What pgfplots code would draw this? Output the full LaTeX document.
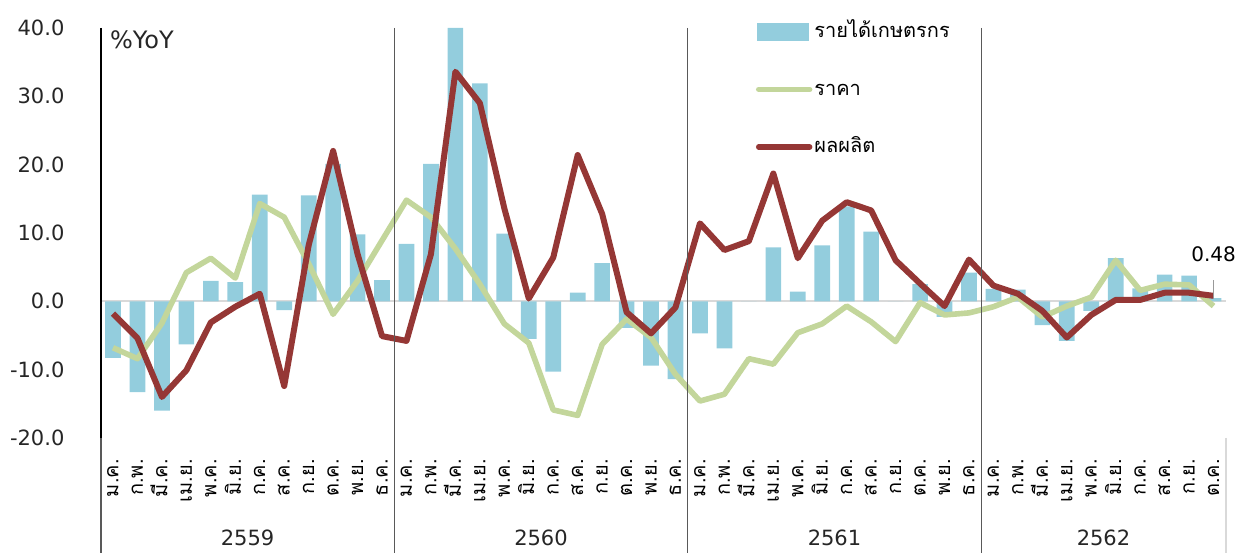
\documentclass[border=0pt]{standalone}
\usepackage{fontspec}
\setmainfont{DejaVu Sans}
\newfontfamily\thaifont[Script=Thai]{Loma}
\usepackage{pgfplots}
\pgfplotsset{compat=1.18}
\usepackage{pgfplotstable}

\definecolor{barblue}{HTML}{93CDDD}
\definecolor{pricegreen}{HTML}{C3D69B}
\definecolor{prodred}{HTML}{953735}
\definecolor{sepgray}{HTML}{595959}
\definecolor{zerogray}{HTML}{D9D9D9}

\pgfplotstableread{
x inc price prod
0 -8.3 -6.8 -1.8
1 -13.3 -8.4 -5.4
2 -16.0 -3.2 -14.0
3 -6.3 4.2 -10.1
4 3.0 6.3 -3.1
5 2.8 3.4 -0.8
6 15.6 14.3 1.1
7 -1.3 12.3 -12.4
8 15.5 5.5 8.2
9 20.1 -1.9 22.0
10 9.8 3.0 6.9
11 3.1 8.9 -5.1
12 8.4 14.8 -5.8
13 20.1 12.3 6.9
14 40.0 7.7 33.6
15 31.9 2.5 29.0
16 9.9 -3.3 13.6
17 -5.5 -6.1 0.4
18 -10.3 -15.9 6.4
19 1.25 -16.7 21.4
20 5.6 -6.3 12.8
21 -3.9 -2.6 -1.6
22 -9.4 -5.3 -4.7
23 -11.4 -10.7 -0.9
24 -4.7 -14.6 11.4
25 -6.9 -13.6 7.5
26 0.0 -8.4 8.8
27 7.9 -9.2 18.7
28 1.4 -4.6 6.3
29 8.2 -3.3 11.8
30 13.9 -0.7 14.5
31 10.2 -3.0 13.3
32 0.0 -5.9 6.0
33 2.5 -0.2 2.6
34 -2.3 -2.0 -0.7
35 4.2 -1.7 6.1
36 1.8 -0.8 2.3
37 1.7 0.6 1.1
38 -3.5 -2.3 -1.4
39 -5.8 -0.7 -5.3
40 -1.4 0.6 -2.0
41 6.3 6.0 0.2
42 1.9 1.6 0.2
43 3.9 2.5 1.25
44 3.75 2.4 1.25
45 0.48 -0.7 0.8
}\data

\begin{document}
\begin{tikzpicture}
\begin{axis}[
  scale only axis,
  width=562.5pt, height=205pt,
  xmin=-0.5, xmax=45.5, ymin=-20, ymax=40,
  clip=false,
  axis lines*=left,
  x axis line style={draw=none},
  y axis line style={draw=none},
  major tick length=0pt,
  ytick={-20,-10,0,10,20,30,40},
  /pgf/number format/fixed,
  /pgf/number format/fixed zerofill,
  /pgf/number format/precision=1,
  /pgf/number format/assume math mode=true,
  yticklabel style={font=\fontsize{10.5}{12}\selectfont, anchor=east, inner sep=0pt, text=black!85},
  yticklabel shift=18pt,
  xtick={0,...,45},
  xticklabels={ม.ค.,ก.พ.,มี.ค.,เม.ย.,พ.ค.,มิ.ย.,ก.ค.,ส.ค.,ก.ย.,ต.ค.,พ.ย.,ธ.ค.,
               ม.ค.,ก.พ.,มี.ค.,เม.ย.,พ.ค.,มิ.ย.,ก.ค.,ส.ค.,ก.ย.,ต.ค.,พ.ย.,ธ.ค.,
               ม.ค.,ก.พ.,มี.ค.,เม.ย.,พ.ค.,มิ.ย.,ก.ค.,ส.ค.,ก.ย.,ต.ค.,พ.ย.,ธ.ค.,
               ม.ค.,ก.พ.,มี.ค.,เม.ย.,พ.ค.,มิ.ย.,ก.ค.,ส.ค.,ก.ย.,ต.ค.},
  xticklabel style={font=\thaifont\fontsize{10}{12}\selectfont, rotate=90, anchor=mid east, inner sep=0pt},
  xticklabel shift=10.5pt,
  legend style={at={(rel axis cs:0.5824,1.0195)}, anchor=north west, draw=none, fill=none,
    inner sep=0pt, outer sep=0pt, row sep=16.75pt, column sep=0pt,
    font=\thaifont\fontsize{10}{12}\selectfont,
    nodes={inner sep=1pt, text height=8pt, text depth=2pt}},
  legend cell align=left,
]
% zero line
\draw[zerogray, line width=1pt] (axis cs:-0.5,0) -- (axis cs:45.5,0);

\addplot[ybar, bar width=0.64, fill=barblue, draw=none,
  legend image code/.code={\fill[barblue] (0pt,-4.5pt) rectangle (26pt,4.5pt);}]
  table[x=x, y=inc] {\data};
\addlegendentry{รายได้เกษตรกร}

\addplot[pricegreen, line width=2.8pt, line join=round, no markers,
  legend image code/.code={\draw[pricegreen, line width=2.7pt, line cap=round] (1pt,0pt) -- (26.5pt,0pt);}]
  table[x=x, y=price] {\data};
\addlegendentry{ราคา}

\addplot[prodred, line width=3pt, line join=round, no markers,
  legend image code/.code={\draw[prodred, line width=2.7pt, line cap=round] (1pt,0pt) -- (26.5pt,0pt);}]
  table[x=x, y=prod] {\data};
\addlegendentry{ผลผลิต}

% axis and group separators
\draw[black, line width=1pt] (axis cs:-0.5,40) -- (axis cs:-0.5,-20);
\draw[sepgray, line width=0.8pt] (axis cs:-0.5,-20) -- ([yshift=-57.75pt]axis cs:-0.5,-20);
\draw[sepgray, line width=0.7pt] (axis cs:11.5,40) -- ([yshift=-57.75pt]axis cs:11.5,-20);
\draw[sepgray, line width=0.7pt] (axis cs:23.5,40) -- ([yshift=-57.75pt]axis cs:23.5,-20);
\draw[sepgray, line width=0.7pt] (axis cs:35.5,40) -- ([yshift=-57.75pt]axis cs:35.5,-20);
\draw[zerogray, line width=0.8pt] (axis cs:45.5,-20) -- ([yshift=-57.75pt]axis cs:45.5,-20);

% year labels
\node[font=\fontsize{10.5}{12}\selectfont, text=black!85, anchor=center] at ([yshift=-49.75pt]axis cs:5.5,-20) {2559};
\node[font=\fontsize{10.5}{12}\selectfont, text=black!85, anchor=center] at ([yshift=-49.75pt]axis cs:17.5,-20) {2560};
\node[font=\fontsize{10.5}{12}\selectfont, text=black!85, anchor=center] at ([yshift=-49.75pt]axis cs:29.5,-20) {2561};
\node[font=\fontsize{10.5}{12}\selectfont, text=black!85, anchor=center] at ([yshift=-49.75pt]axis cs:40.5,-20) {2562};

% unit label
\node[font=\fontsize{12}{14}\selectfont, text=black!85, anchor=north west, inner sep=0pt] at ([xshift=4.5pt,yshift=-1pt]axis cs:-0.5,40) {\%YoY};

% data label
\draw[gray!80, line width=0.6pt] (axis cs:45,3.1) -- (axis cs:45,0.3);
\node[font=\fontsize{10}{12}\selectfont, anchor=center] at (axis cs:45,6.9) {0.48};

\coordinate (bbSW) at (rel axis cs:-0.0896,-0.2814);
\coordinate (bbNE) at (rel axis cs:1.0162,1.0682);
\end{axis}
\pgfresetboundingbox
\path[use as bounding box] (bbSW) rectangle (bbNE);
\end{tikzpicture}
\end{document}
